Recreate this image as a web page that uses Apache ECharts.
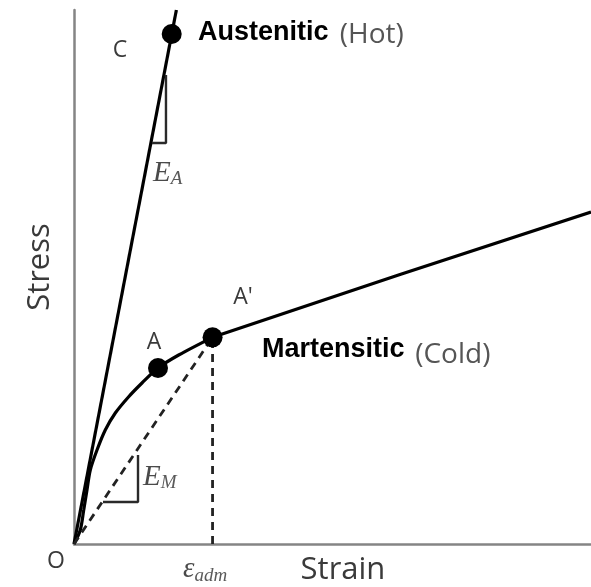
<!DOCTYPE html>
<html>
<head>
<meta charset="utf-8">
<script src="https://cdn.jsdelivr.net/npm/echarts@6/dist/echarts.min.js"></script>
<style>html,body{margin:0;padding:0;background:#fff;}#c{width:591px;height:587px;}</style>
</head>
<body>
<div id="c"></div>
<script>
// Martensitic (cold) curve: nonlinear part from O to A'
const martStrain = [0, 1.22, 1.88, 2.51, 3.15, 4.45, 6.05, 7.99, 10.58, 13.15, 16.25, 20.25, 26.8];
const martStress = [0, 2.62, 6.37, 10.11, 13.86, 17.60, 21.35, 24.53, 27.58, 30.15, 32.96, 35.39, 38.7];
// Martensitic linear part after A'
const martLinStrain = [26.8, 63.06, 100];
const martLinStress = [38.7, 50.45, 62.17];
// Austenitic (hot) line
const austStrain = [0, 19.8];
const austStress = [0, 100];
// Marked points
const pointNames = ['C', 'A', "A'"];
const pointStrain = [18.9, 16.25, 26.8];
const pointStress = [95.5, 32.96, 38.7];
// Secant (E_M) and admissible strain line
const secantStrain = [0, 26.8];
const secantStress = [0, 38.7];
const admStrain = [26.8, 26.8];
const admStress = [0, 38.7];
// Slope triangles
const triEAStrain = [15.09, 17.79, 17.79];
const triEAStress = [75.09, 75.09, 87.83];
const triEMStrain = [5.61, 12.38, 12.38];
const triEMStress = [7.87, 7.87, 16.67];
// Annotations (text, strain, stress, kind)
const annoText = ['C', 'Austenitic', '(Hot)', 'A', "A'", 'Martensitic', '(Cold)', 'O', 'Strain', 'Stress', '{e|E}{s|A}', '{e|E}{s|M}', '{e|ε}{s|adm}'];
const annoStrain = [8.9, 23.98, 51.4, 15.47, 32.69, 36.36, 66.0, -3.48, 52.03, -6.58, 15.28, 13.35, 21.08];
const annoStress = [92.5, 95.69, 95.32, 37.83, 46.2, 36.33, 35.39, -3.18, -4.87, 51.87, 69.29, 12.36, -4.87];
const annoKind = ['pt', 'bold', 'gray', 'pt', 'pt', 'bold', 'gray', 'pt', 'axis', 'axisV', 'math', 'math', 'math'];

const zip = (a, b) => a.map((v, i) => [v, b[i]]);

const mathRich = {
  e: {fontFamily: 'Liberation Serif', fontStyle: 'italic', fontSize: 29, color: '#4a4a4a', lineHeight: 30, verticalAlign: 'top'},
  s: {fontFamily: 'Liberation Serif', fontStyle: 'italic', fontSize: 19, color: '#5a5a5a', lineHeight: 18, verticalAlign: 'bottom'}
};
const kindStyle = {
  pt: {fontFamily: 'Open Sans', fontSize: 23, color: '#3a3a3a', align: 'center', verticalAlign: 'middle'},
  bold: {fontFamily: 'Liberation Sans', fontWeight: 'bold', fontSize: 27, color: '#000', align: 'left', verticalAlign: 'middle'},
  gray: {fontFamily: 'Open Sans', fontSize: 28, color: '#555', align: 'left', verticalAlign: 'middle'},
  axis: {fontFamily: 'Open Sans', fontSize: 31, color: '#3a3a3a', align: 'center', verticalAlign: 'middle'},
  axisV: {fontFamily: 'Open Sans', fontSize: 31, color: '#3a3a3a', align: 'center', verticalAlign: 'middle', rotate: 90},
  math: {align: 'left', verticalAlign: 'middle', lineHeight: 36, rich: mathRich}
};

const chart = echarts.init(document.getElementById('c'), null, {renderer: 'canvas'});
const lineBase = {type: 'line', symbol: 'none', silent: true, clip: false, z: 2};
chart.setOption({
  animation: false,
  backgroundColor: '#fff',
  grid: {left: 74, right: 0, top: 10, bottom: 43},
  xAxis: {
    type: 'value', min: 0, max: 100,
    axisLine: {show: true, onZero: false, lineStyle: {color: '#858585', width: 2.5}},
    axisTick: {show: false}, axisLabel: {show: false}, splitLine: {show: false}
  },
  yAxis: {
    type: 'value', min: 0, max: 100,
    axisLine: {show: true, onZero: false, lineStyle: {color: '#858585', width: 2.5}},
    axisTick: {show: false}, axisLabel: {show: false}, splitLine: {show: false}
  },
  series: [
    Object.assign({}, lineBase, {name: 'Austenitic', data: zip(austStrain, austStress), lineStyle: {color: '#000', width: 3.2}}),
    Object.assign({}, lineBase, {name: 'Martensitic', data: zip(martStrain, martStress), smooth: 0.3, lineStyle: {color: '#000', width: 3.2}}),
    Object.assign({}, lineBase, {name: 'MartensiticLin', data: zip(martLinStrain, martLinStress), lineStyle: {color: '#000', width: 3.2}}),
    Object.assign({}, lineBase, {name: 'Secant', data: zip(secantStrain, secantStress), lineStyle: {color: '#222', width: 2.8, type: [8, 6]}}),
    Object.assign({}, lineBase, {name: 'Adm', data: zip(admStrain, admStress), lineStyle: {color: '#222', width: 2.8, type: [8, 6]}}),
    Object.assign({}, lineBase, {name: 'TriEA', data: zip(triEAStrain, triEAStress), lineStyle: {color: '#2a2a2a', width: 2.4}}),
    Object.assign({}, lineBase, {name: 'TriEM', data: zip(triEMStrain, triEMStress), lineStyle: {color: '#2a2a2a', width: 2.4}}),
    {
      type: 'scatter', name: 'Points', silent: true, z: 5,
      symbolSize: 20, itemStyle: {color: '#000', opacity: 1},
      data: pointNames.map((n, i) => ({name: n, value: [pointStrain[i], pointStress[i]]}))
    },
    {
      type: 'scatter', name: 'Labels', silent: true, clip: false, z: 6,
      symbolSize: 1, itemStyle: {color: 'rgba(0,0,0,0)', opacity: 1},
      data: annoText.map((t, i) => ({
        value: [annoStrain[i], annoStress[i]],
        label: Object.assign({show: true, position: 'inside', formatter: t}, kindStyle[annoKind[i]])
      }))
    }
  ]
});
</script>
</body>
</html>
